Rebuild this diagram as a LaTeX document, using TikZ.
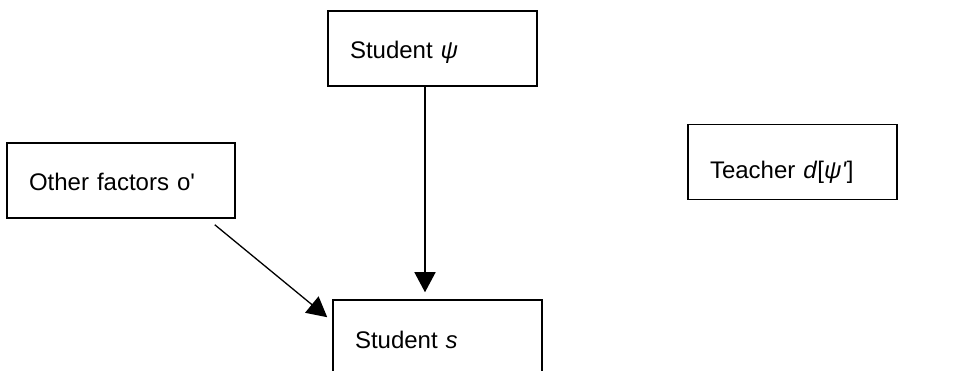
\documentclass[tikz,border=0pt]{standalone}
\usepackage{fontspec}
\setmainfont{Liberation Sans}[Ligatures=TeXOff]
\usetikzlibrary{arrows.meta,positioning}
\tikzset{
  fbox/.style={rectangle,draw=black,line width=1.5pt,fill=white,
               font=\fontsize{24}{28}\selectfont,minimum height=75pt,
               text width=165pt,align=left,inner xsep=22pt,inner ysep=0pt,
               text height=26pt,text depth=5pt},
  fedge/.style={-{Triangle[length=20pt,width=21pt]},line width=1.3pt,black},
}

\begin{document}
\begin{tikzpicture}[x=1pt,y=-1pt]
  \useasboundingbox (0,0) rectangle (961,371);
  \node[fbox] (spsi) at (432.5,48.5) {Student \textit{ψ}};
  \node[fbox,text width=184pt] (other) at (121,180.5) {Other factors o'};
  \node[fbox,text height=36pt,text depth=3pt] (teacher) at (792.5,162) {Teacher \textit{d}[\textit{ψ'}]};
  \node[fbox] (sts) at (437.5,337.5) {Student \textit{s}};
  \draw[fedge] ([xshift=-7.5pt]spsi.south) -- ([xshift=-12.5pt,yshift=7pt]sts.north);
  \draw[fedge] ([xshift=-21pt,yshift=-6pt]other.south east) -- ([xshift=-5pt,yshift=-18pt]sts.north west);
\end{tikzpicture}
\end{document}
